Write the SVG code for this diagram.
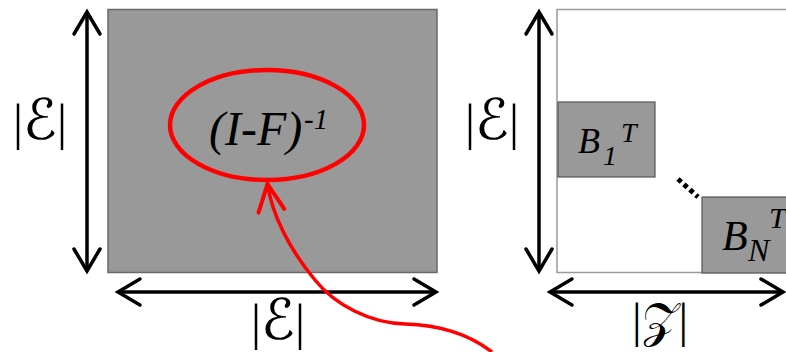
<svg xmlns="http://www.w3.org/2000/svg" width="786" height="352" viewBox="0 0 786 352">
<style>
.bar{font-family:"Liberation Serif","Times New Roman",serif;fill:#000}
.scr{font-family:"DejaVu Serif","DejaVu Sans",serif;font-size:56px}
.m{font-family:"Liberation Serif","Times New Roman",serif;font-style:italic;fill:#000}
.ax{stroke:#000;stroke-width:3.5;fill:none}
</style>
<defs>
<marker id="chev" markerUnits="userSpaceOnUse" viewBox="-26 -15 30 30" markerWidth="30" markerHeight="30" refX="0" refY="0" orient="auto-start-reverse" overflow="visible">
<path d="M -22 -13 L 0 0 L -22 13" fill="none" stroke="#000" stroke-width="3.5" stroke-linecap="round" stroke-linejoin="miter"/>
</marker>
<marker id="rchev" markerUnits="userSpaceOnUse" viewBox="-30 -15 34 30" markerWidth="34" markerHeight="30" refX="0" refY="0" orient="auto" overflow="visible">
<path d="M -27 -13 L 0 0 L -27 13" fill="none" stroke="#ff0000" stroke-width="4" stroke-linecap="round"/>
</marker>
</defs>
<g id="matrix-left">
<rect x="108" y="9.5" width="329" height="263" fill="#999999" stroke="#6a6a6a" stroke-width="1.5"/>
</g>
<g id="matrix-right">
<rect x="557" y="9.5" width="240" height="263" fill="#ffffff" stroke="#9a9a9a" stroke-width="1.5"/>
</g>
<g id="block-b1">
<rect x="558" y="102" width="97" height="75" fill="#999999" stroke="#555" stroke-width="1.2"/>
<text class="m" x="578" y="153" font-size="36">B</text>
<text class="m" x="603" y="165" font-size="28">1</text>
<text class="m" x="621" y="142" font-size="28">T</text>
</g>
<g id="block-bn">
<rect x="702" y="197" width="100" height="76" fill="#999999" stroke="#555" stroke-width="1.2"/>
<text class="m" x="722" y="250" font-size="42">B</text>
<text class="m" x="748" y="261" font-size="32">N</text>
<text class="m" x="769" y="228" font-size="30">T</text>
</g>
<g id="dots">
<line x1="678" y1="179" x2="698" y2="197" stroke="#000" stroke-width="5" stroke-dasharray="4.5 3.5"/>
</g>
<g id="inverse-label">
<ellipse cx="267" cy="125" rx="97" ry="55" fill="none" stroke="#ff0000" stroke-width="4.5"/>
<text class="m" x="209" y="145" font-size="48">(I-F)</text>
<text class="m" x="304" y="129" font-size="29">-1</text>
</g>
<g id="labels">
<text x="40" y="139" font-size="50" text-anchor="middle"><tspan class="bar">|</tspan><tspan class="scr">ℰ</tspan><tspan class="bar">|</tspan></text>
<text x="278" y="339" font-size="50" text-anchor="middle"><tspan class="bar">|</tspan><tspan class="scr">ℰ</tspan><tspan class="bar">|</tspan></text>
<text x="492" y="139" font-size="50" text-anchor="middle"><tspan class="bar">|</tspan><tspan class="scr">ℰ</tspan><tspan class="bar">|</tspan></text>
<text x="660" y="337" font-size="48" text-anchor="middle"><tspan class="bar">|</tspan><tspan class="scr" style="font-size:48px">𝒵</tspan><tspan class="bar">|</tspan></text>
</g>
<g id="connectors">
<line class="ax" x1="87" y1="12" x2="87" y2="271" marker-start="url(#chev)" marker-end="url(#chev)"/>
<line class="ax" x1="118" y1="292" x2="436" y2="292" marker-start="url(#chev)" marker-end="url(#chev)"/>
<line class="ax" x1="539" y1="12" x2="539" y2="271" marker-start="url(#chev)" marker-end="url(#chev)"/>
<line class="ax" x1="550" y1="292" x2="783" y2="292" marker-start="url(#chev)" marker-end="url(#chev)"/>
<path d="M 492 352 C 470 335, 440 325, 405 324 C 370 323, 335 305, 315 280 C 290 250, 272 215, 267.5 184" fill="none" stroke="#ff0000" stroke-width="3.5" marker-end="url(#rchev)"/>
</g>
</svg>
